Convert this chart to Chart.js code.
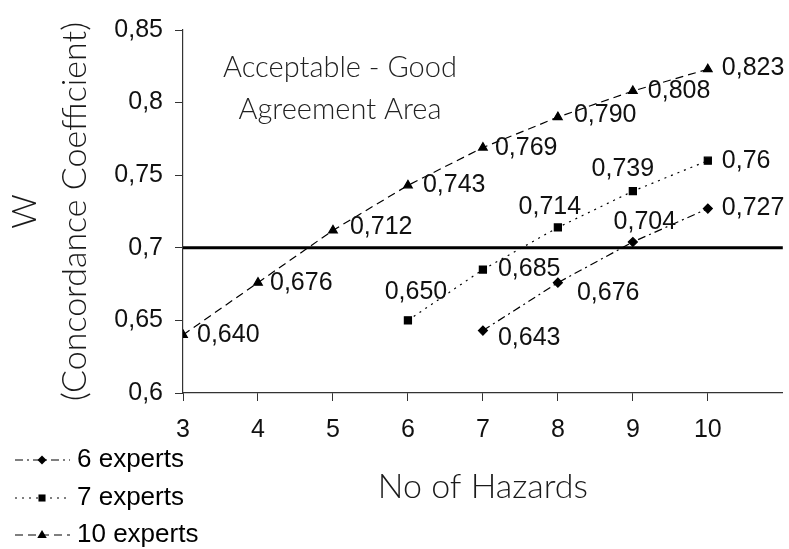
<!DOCTYPE html>
<html>
<head>
<meta charset="utf-8">
<script src="https://cdn.jsdelivr.net/npm/chart.js@4.4.1/dist/chart.umd.min.js"></script>
<style>
  html, body { margin: 0; padding: 0; background: #fff; }
</style>
</head>
<body>
<canvas id="chart" width="789" height="549"></canvas>
<script>
// W values per number of hazards, one group of arrays per expert panel
var hazards6 = [7, 8, 9, 10];
var w6 = [0.643, 0.676, 0.704, 0.727];
var text6 = ["0,643", "0,676", "0,704", "0,727"];

var hazards7 = [6, 7, 8, 9, 10];
var w7 = [0.650, 0.685, 0.714, 0.739, 0.76];
var text7 = ["0,650", "0,685", "0,714", "0,739", "0,76"];

var hazards10 = [3, 4, 5, 6, 7, 8, 9, 10];
var w10 = [0.640, 0.676, 0.712, 0.743, 0.769, 0.790, 0.808, 0.823];
var text10 = ["0,640", "0,676", "0,712", "0,743", "0,769", "0,790", "0,808", "0,823"];

var seriesNames = ["6 experts", "7 experts", "10 experts"];
var xTicks = [3, 4, 5, 6, 7, 8, 9, 10];
var yTicks = [0.6, 0.65, 0.7, 0.75, 0.8, 0.85];
var threshold = 0.7;
var noteLines = ["Acceptable - Good", "Agreement Area"];

(function () {
    "use strict";

    var ARIAL = "'Liberation Sans', Arial, sans-serif";
    var GILL = "Lato, 'Open Sans', sans-serif";

    function pairs(xs, ys) {
        return xs.map(function (x, i) { return { x: x, y: ys[i] }; });
    }

    // where each value label sits relative to its marker: [dx, dy, align]
    var labelPlace = [
        [[15, 8, "left"], [19, 10, "left"], [12, -20, "center"], [14, 0, "left"]],
        [[8, -28, "center"], [15, 0, "left"], [-8, -20, "center"], [-10, -22, "center"], [14, 0, "left"]],
        [[14, 0, "left"], [12, 0, "left"], [17, -3, "left"], [15, 0, "left"],
         [12, 0, "left"], [16, -2, "left"], [15, 0, "left"], [14, -1, "left"]]
    ];
    var labelTexts = [text6, text7, text10];

    function marker(ctx, style, r, x, y) {
        ctx.beginPath();
        if (style === "triangle") {
            ctx.moveTo(x, y - r);
            ctx.lineTo(x + r * 0.95, y + r * 0.6);
            ctx.lineTo(x - r * 0.95, y + r * 0.6);
        } else if (style === "rect") {
            var s = r * Math.SQRT1_2;
            ctx.rect(x - s, y - s, 2 * s, 2 * s);
        } else {
            ctx.moveTo(x, y - r);
            ctx.lineTo(x + r, y);
            ctx.lineTo(x, y + r);
            ctx.lineTo(x - r, y);
        }
        ctx.closePath();
        ctx.fill();
    }

    var extras = {
        id: "extras",
        beforeDatasetsDraw: function (chart) {
            var ctx = chart.ctx, area = chart.chartArea;
            var y = chart.scales.y.getPixelForValue(threshold);
            ctx.save();
            ctx.strokeStyle = "#000";
            ctx.lineWidth = 3;
            ctx.beginPath();
            ctx.moveTo(area.left, y);
            ctx.lineTo(area.right, y);
            ctx.stroke();
            ctx.restore();
        },
        afterDatasetsDraw: function (chart) {
            var ctx = chart.ctx;
            ctx.save();
            ctx.font = "25px " + ARIAL;
            ctx.fillStyle = "#111";
            ctx.textBaseline = "middle";
            chart.data.datasets.forEach(function (ds, i) {
                chart.getDatasetMeta(i).data.forEach(function (pt, j) {
                    var p = labelPlace[i][j];
                    ctx.textAlign = p[2];
                    ctx.fillText(labelTexts[i][j], pt.x + p[0], pt.y + p[1]);
                });
            });
            ctx.restore();
        },
        afterDraw: function (chart) {
            var ctx = chart.ctx;
            ctx.save();
            // note in the upper left of the plot
            ctx.font = "300 29px " + GILL;
            ctx.fillStyle = "#222";
            ctx.textAlign = "center";
            ctx.textBaseline = "alphabetic";
            ctx.fillText(noteLines[0], 340, 77);
            ctx.fillText(noteLines[1], 340, 119);

            // legend, bottom left
            var rows = [460, 498, 535];
            chart.data.datasets.forEach(function (ds, i) {
                var y = rows[i];
                ctx.strokeStyle = "#000";
                ctx.fillStyle = "#000";
                ctx.lineWidth = 1.2;
                ctx.setLineDash(ds.borderDash);
                ctx.beginPath();
                ctx.moveTo(15, y);
                ctx.lineTo(70, y);
                ctx.stroke();
                ctx.setLineDash([]);
                marker(ctx, ds.pointStyle, ds.pointRadius, 42, y);
                ctx.font = "26px " + ARIAL;
                ctx.textAlign = "left";
                ctx.textBaseline = "middle";
                ctx.fillText(ds.label, 77, y);
            });
            ctx.restore();
        }
    };

    var ctx1 = document.getElementById("chart").getContext("2d");
    var myChart = new Chart(ctx1, {
        type: "line",
        data: {
            datasets: [
                {
                    label: seriesNames[0],
                    data: pairs(hazards6, w6),
                    borderColor: "#000",
                    backgroundColor: "#000",
                    borderWidth: 1.2,
                    borderDash: [8, 4, 2, 4],
                    pointStyle: "rectRot",
                    pointRadius: 4.5,
                },
                {
                    label: seriesNames[1],
                    data: pairs(hazards7, w7),
                    borderColor: "#000",
                    backgroundColor: "#000",
                    borderWidth: 1.2,
                    borderDash: [2, 5],
                    pointStyle: "rect",
                    pointRadius: 5,
                },
                {
                    label: seriesNames[2],
                    data: pairs(hazards10, w10),
                    borderColor: "#000",
                    backgroundColor: "#000",
                    borderWidth: 1.2,
                    borderDash: [8, 5],
                    pointStyle: "triangle",
                    pointRadius: 5,
                },
            ],
        },
        options: {
            responsive: false,
            animation: false,
            layout: { padding: { top: 30, right: 6, left: 0, bottom: 0 } },
            plugins: {
                legend: { display: false },
                tooltip: { enabled: false },
            },
            scales: {
                x: {
                    type: "linear",
                    min: 3,
                    max: 11,
                    afterBuildTicks: function (scale) {
                        scale.ticks = xTicks.map(function (v) { return { value: v }; });
                    },
                    afterFit: function (scale) { scale.height = 156; },
                    grid: { drawOnChartArea: false, drawTicks: true, tickLength: 8, color: "#333" },
                    border: { color: "#333", width: 1.2 },
                    ticks: {
                        padding: 14,
                        color: "#111",
                        font: { family: ARIAL, size: 25 },
                        maxRotation: 0,
                    },
                    title: {
                        display: true,
                        text: "No of Hazards",
                        color: "#1a1a1a",
                        font: { family: GILL, size: 34, weight: "300" },
                        padding: { top: 0, bottom: 42 },
                    },
                },
                y: {
                    min: 0.6,
                    max: 0.85,
                    afterBuildTicks: function (scale) {
                        scale.ticks = yTicks.map(function (v) { return { value: v }; });
                    },
                    afterFit: function (scale) { scale.width = 183; },
                    grid: { drawOnChartArea: false, drawTicks: true, tickLength: 8, color: "#333" },
                    border: { color: "#333", width: 1.2 },
                    ticks: {
                        padding: 12,
                        color: "#111",
                        font: { family: ARIAL, size: 25 },
                        callback: function (v) { return String(+v.toFixed(2)).replace(".", ","); },
                    },
                    title: {
                        display: true,
                        text: ["W", "(Concordance Coefficient)"],
                        color: "#1a1a1a",
                        font: { family: GILL, size: 34, weight: "300", lineHeight: 1.47 },
                        padding: { top: 0, bottom: 0 },
                    },
                },
            },
        },
        plugins: [extras],
    });
})();
</script>
</body>
</html>
